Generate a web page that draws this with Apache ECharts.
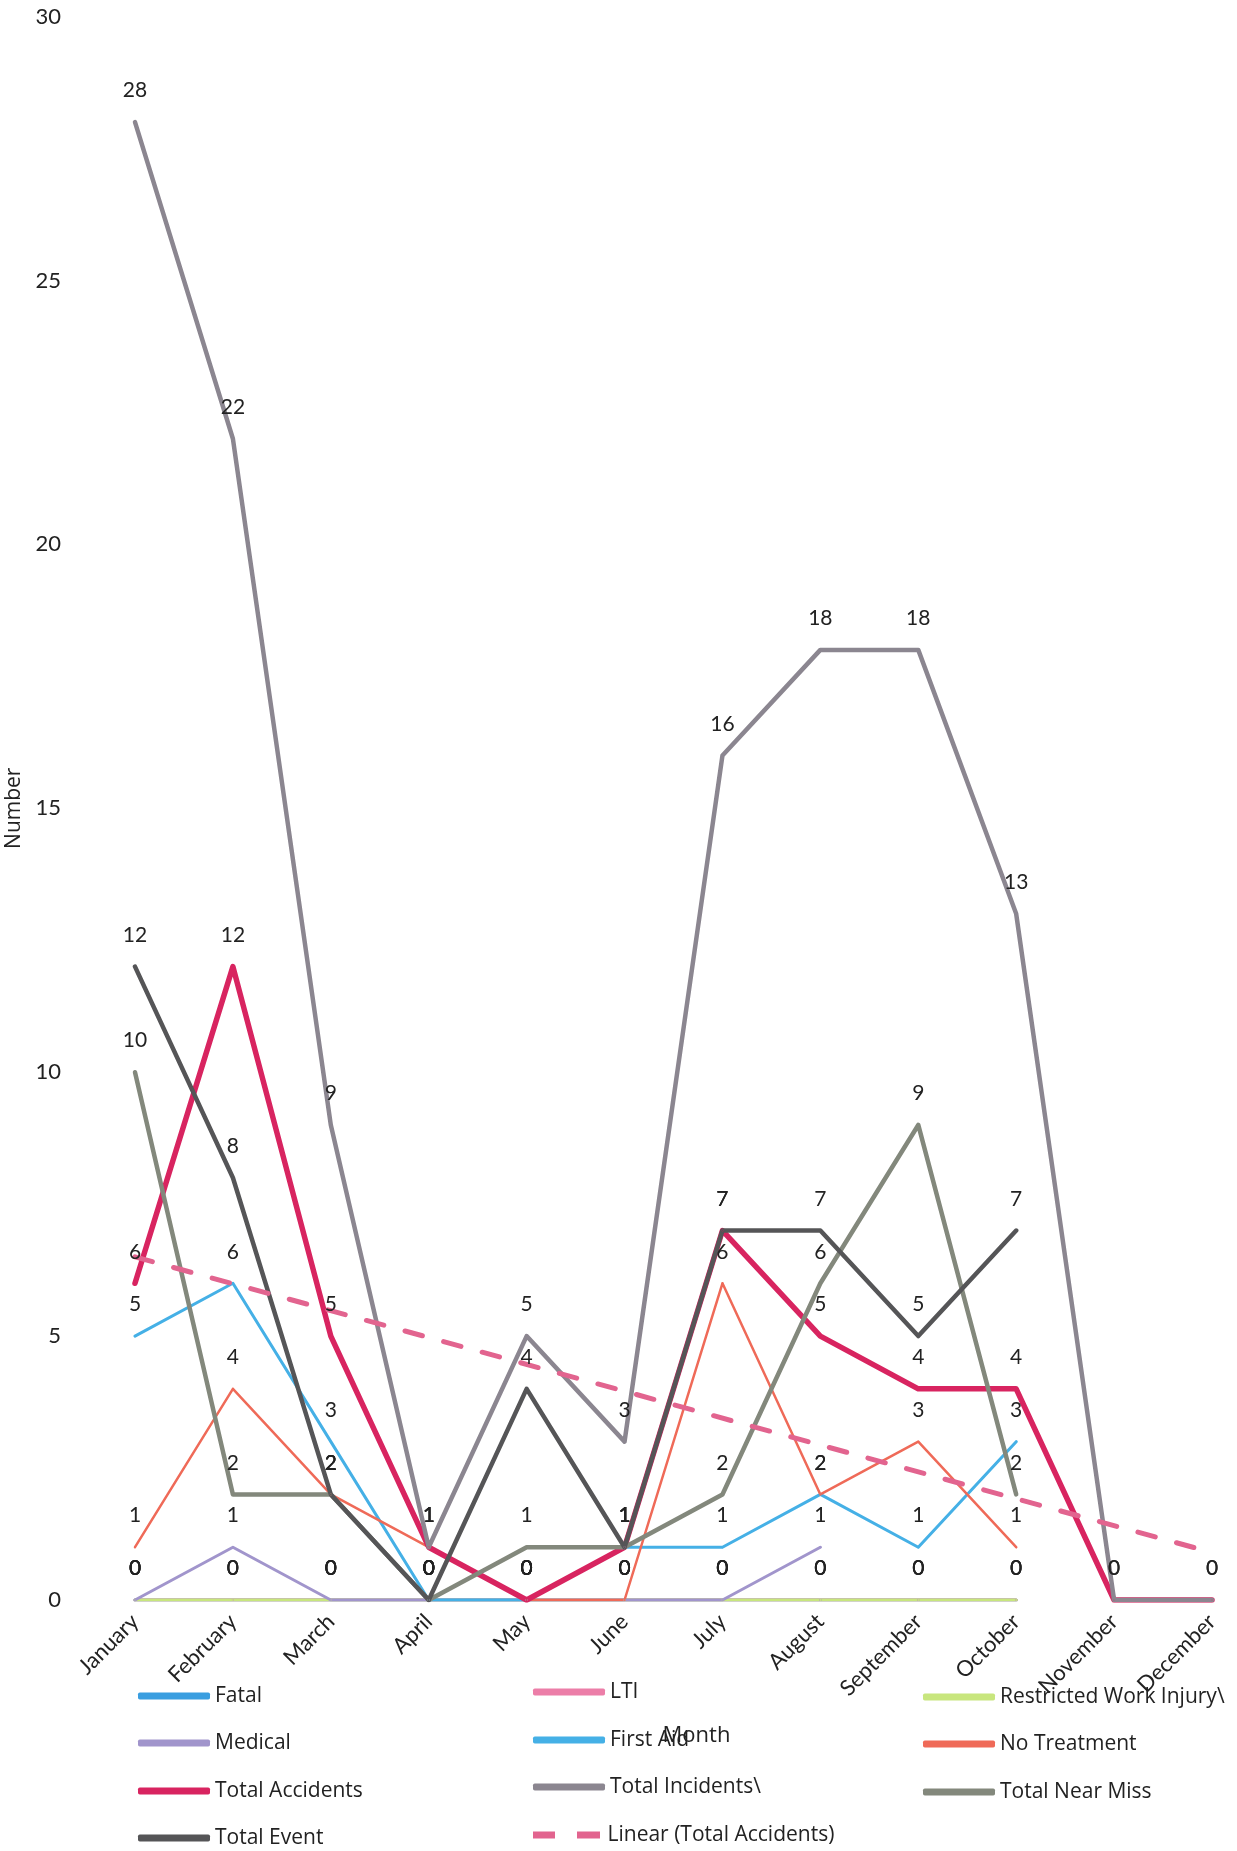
<!DOCTYPE html>
<html><head><meta charset="utf-8">
<script src="https://cdn.jsdelivr.net/npm/echarts@6/dist/echarts.min.js"></script>
<style>html,body{margin:0;padding:0;background:#fff}#c{width:1237px;height:1851px}</style>
</head><body><div id="c"></div>
<script>
const months = ['January','February','March','April','May','June','July','August','September','October','November','December'];
const yTicks = [0, 5, 10, 15, 20, 25, 30];

const fatal          = [0, 0, 0, 0, 0, 0, 0, 0, 0, 0];
const lti            = [0, 0, 0, 0, 0, 0, 0, 0, 0, 0];
const restricted     = [0, 0, 0, 0, 0, 0, 0, 0, 0, 0];
const medical        = [0, 1, 0, 0, 0, 0, 0, 1];
const firstAid       = [5, 6, 3, 0, 0, 1, 1, 2, 1, 3];
const noTreatment    = [1, 4, 2, 1, 0, 0, 6, 2, 3, 1];
const totalAccidents = [6, 12, 5, 1, 0, 1, 7, 5, 4, 4, 0, 0];
const totalIncidents = [28, 22, 9, 1, 5, 3, 16, 18, 18, 13, 0, 0];
const totalNearMiss  = [10, 2, 2, 0, 1, 1, 2, 6, 9, 2];
const totalEvent     = [12, 8, 2, 0, 4, 1, 7, 7, 5, 7];
const trendEnds      = [6.5, 0.9];

const FONT = 'Lato';
const LFONT = 'Open Sans';
const chart = echarts.init(document.getElementById('c'), null, {renderer: 'canvas'});

function ser(name, data, color, width) {
  return {
    name: name, type: 'line', data: data, color: color,
    symbol: 'circle', symbolSize: 2, showSymbol: true,
    lineStyle: {width: width, color: color, cap: 'round', join: 'round'},
    itemStyle: {color: color},
    label: {show: true, position: 'top', distance: 20, fontSize: 21, color: '#222', fontFamily: FONT},
    emphasis: {disabled: true},
    silent: true
  };
}

function leg(name, left, centerY, icon) {
  const item = icon ? {name: name, icon: icon} : name;
  return {
    left: left, top: centerY - 12, orient: 'horizontal', data: [item],
    itemWidth: 72, itemHeight: 7, icon: 'roundRect', itemGap: 0, padding: 0,
    textStyle: {fontSize: 21, color: '#222', fontFamily: LFONT, lineHeight: 24},
    selectedMode: false
  };
}

const option = {
  animation: false,
  backgroundColor: '#fff',
  textStyle: {fontFamily: FONT},
  grid: {left: 135, right: 25, top: 16.5, bottom: 251, containLabel: false, outerBoundsMode: 'none'},
  xAxis: {
    type: 'category', data: months, boundaryGap: false,
    axisLine: {show: false}, axisTick: {show: false}, splitLine: {show: false},
    axisLabel: {rotate: 45, fontSize: 22, color: '#222', margin: 18, fontFamily: FONT, interval: 0},
    name: 'Month', nameLocation: 'middle', nameGap: 125,
    nameTextStyle: {fontSize: 22, color: '#222', fontFamily: LFONT, padding: [0, 0, 0, 46]}
  },
  yAxis: {
    type: 'value', min: yTicks[0], max: yTicks[yTicks.length - 1], interval: yTicks[1] - yTicks[0],
    axisLine: {show: false}, axisTick: {show: false}, splitLine: {show: false},
    axisLabel: {fontSize: 22, color: '#222', margin: 74, fontFamily: FONT},
    name: 'Number', nameLocation: 'middle', nameGap: 99, nameRotate: 90,
    nameTextStyle: {fontSize: 21, color: '#222', fontFamily: LFONT}
  },
  legend: [
    leg('Fatal', 138, 1696),
    leg('Medical', 138, 1743),
    leg('Total Accidents', 138, 1791),
    leg('Total Event', 138, 1838),
    leg('LTI', 533, 1692),
    leg('First Aid', 533, 1740),
    leg('Total Incidents\\', 533, 1787),
    leg('Linear (Total Accidents)', 533, 1835, 'path://M0,0h22v7h-22z M44,0h23v7h-23z'),
    leg('Restricted Work Injury\\', 923, 1697),
    leg('No Treatment', 923, 1744),
    leg('Total Near Miss', 923, 1792)
  ],
  series: [
    ser('Fatal', fatal, '#3a9ee0', 3),
    ser('LTI', lti, '#ec7ea8', 3),
    ser('Restricted Work Injury\\', restricted, '#c8e67e', 3),
    ser('Medical', medical, '#a195cc', 3),
    ser('First Aid', firstAid, '#45b0e6', 3),
    ser('No Treatment', noTreatment, '#ef6a58', 2.5),
    ser('Total Accidents', totalAccidents, '#d82460', 5.5),
    ser('Total Incidents\\', totalIncidents, '#8b8690', 4.5),
    ser('Total Near Miss', totalNearMiss, '#83887c', 4.5),
    ser('Total Event', totalEvent, '#555557', 4.5),
    {
      name: 'Linear (Total Accidents)', type: 'line', color: '#e2648f',
      data: [[months[0], trendEnds[0]], [months[months.length - 1], trendEnds[1]]],
      symbol: 'none', silent: true, emphasis: {disabled: true},
      lineStyle: {width: 5, color: '#e2648f', type: [18, 22], cap: 'round'},
      itemStyle: {color: '#e2648f'}
    }
  ]
};
chart.setOption(option);
</script>
</body></html>
